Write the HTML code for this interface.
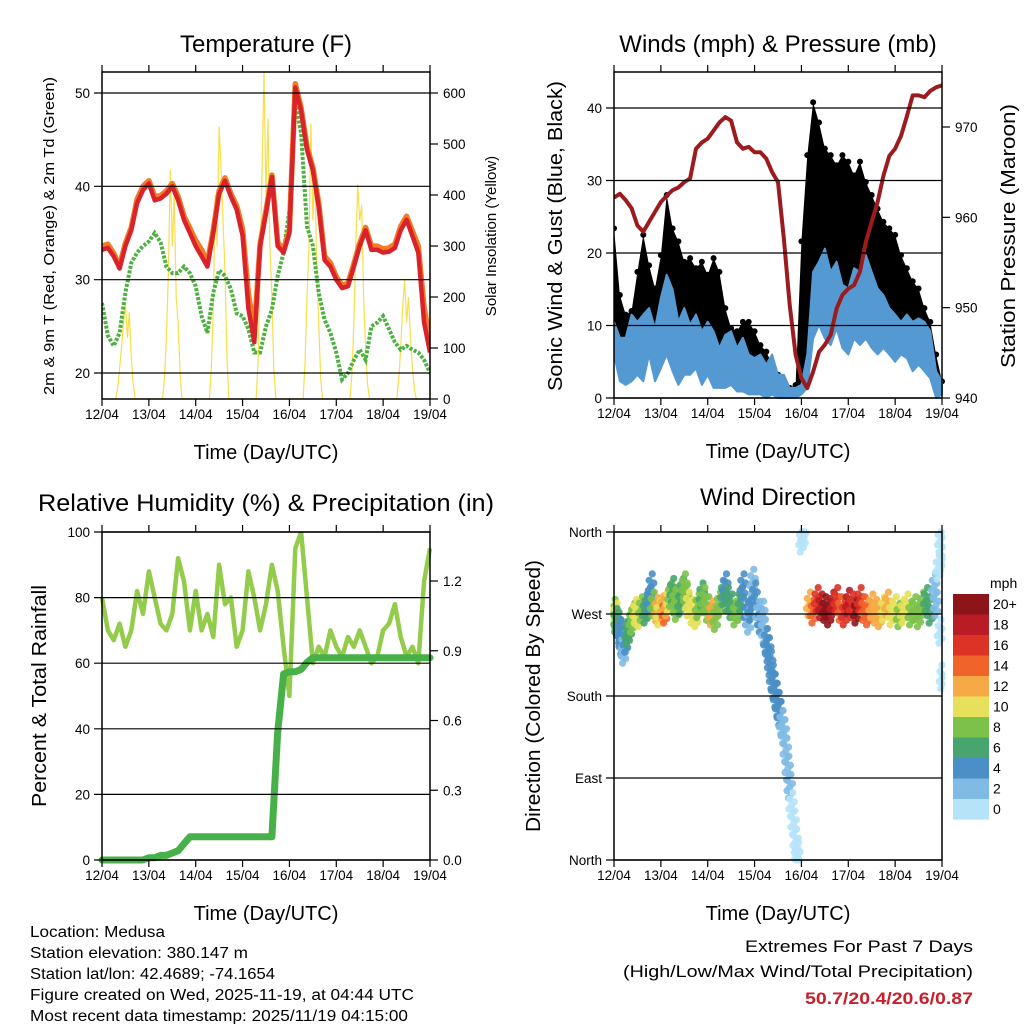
<!DOCTYPE html>
<html><head><meta charset="utf-8">
<style>
html,body{margin:0;padding:0;background:#fff;}
svg{display:block;font-family:"Liberation Sans",Arial,sans-serif;}
</style></head>
<body>
<svg id="fig" width="1024" height="1024" viewBox="0 0 1024 1024" xmlns="http://www.w3.org/2000/svg">
<rect width="1024" height="1024" fill="#fff"/>
<text x="266" y="52" font-size="24" text-anchor="middle">Temperature (F)</text>
<text x="778" y="52" font-size="24" text-anchor="middle">Winds (mph) &amp; Pressure (mb)</text>
<text x="266" y="511" font-size="24" text-anchor="middle" textLength="456" lengthAdjust="spacingAndGlyphs">Relative Humidity (%) &amp; Precipitation (in)</text>
<text x="778" y="505" font-size="24" text-anchor="middle">Wind Direction</text>

<text transform="translate(54,236) rotate(-90)" font-size="15" text-anchor="middle" textLength="318" lengthAdjust="spacingAndGlyphs">2m &amp; 9m T (Red, Orange) &amp; 2m Td (Green)</text>
<text transform="translate(496,236) rotate(-90)" font-size="15" text-anchor="middle">Solar Insolation (Yellow)</text>
<text transform="translate(562,236) rotate(-90)" font-size="20" text-anchor="middle" textLength="310" lengthAdjust="spacingAndGlyphs">Sonic Wind &amp; Gust (Blue, Black)</text>
<text transform="translate(1015,236) rotate(-90)" font-size="20" text-anchor="middle" textLength="264" lengthAdjust="spacingAndGlyphs">Station Pressure (Maroon)</text>
<text transform="translate(46,696) rotate(-90)" font-size="20" text-anchor="middle" textLength="222" lengthAdjust="spacingAndGlyphs">Percent &amp; Total Rainfall</text>
<text transform="translate(540,696) rotate(-90)" font-size="20" text-anchor="middle" textLength="272" lengthAdjust="spacingAndGlyphs">Direction (Colored By Speed)</text>

<g font-size="15.5">
<text x="30" y="937" textLength="135" lengthAdjust="spacingAndGlyphs">Location: Medusa</text>
<text x="30" y="958" textLength="218" lengthAdjust="spacingAndGlyphs">Station elevation: 380.147 m</text>
<text x="30" y="979" textLength="245" lengthAdjust="spacingAndGlyphs">Station lat/lon: 42.4689; -74.1654</text>
<text x="30" y="1000" textLength="384" lengthAdjust="spacingAndGlyphs">Figure created on Wed, 2025-11-19, at 04:44 UTC</text>
<text x="30" y="1021" textLength="378" lengthAdjust="spacingAndGlyphs">Most recent data timestamp: 2025/11/19 04:15:00</text>
</g>
<g font-size="17" text-anchor="end">
<text x="973" y="952" textLength="228" lengthAdjust="spacingAndGlyphs">Extremes For Past 7 Days</text>
<text x="973" y="977" textLength="350" lengthAdjust="spacingAndGlyphs">(High/Low/Max Wind/Total Precipitation)</text>
<text x="973" y="1004" fill="#c8202a" font-weight="bold" textLength="168" lengthAdjust="spacingAndGlyphs">50.7/20.4/20.6/0.87</text>
</g>
<g id="layer"></g>
</svg>
<script>
// ---------- data (3-hourly, hours 0..168 from 12/04 00 UTC) ----------
const dayLabels = ["12/04","13/04","14/04","15/04","16/04","17/04","18/04","19/04"];
const temp2m = [33.2,33.4,32.5,31.2,33.6,35.3,38.2,39.6,40.3,38.5,38.7,39.2,40,38.5,36.4,35,33.6,32.5,31.4,35,39.2,40.6,38.9,37.5,34.7,26.9,23.3,33.6,37.1,41,33.6,32.9,35,50.6,48.1,43.9,41.7,37.8,32.1,31.4,30,29.1,29.3,31.4,33.6,35.3,33.2,33.2,32.9,33,33.4,35.3,36.4,34.7,32.9,25.4,22.2];
const temp9m = [33.6,33.8,32.8,31.5,33.9,35.6,38.6,40,40.6,38.9,39,39.5,40.3,38.9,36.8,35.5,34.2,33.2,31.8,35.3,39.5,40.9,39.2,37.9,35.4,28.5,24.5,33.8,37.4,41.2,34,33.2,35.3,51,48.4,44.2,42,38.2,32.5,31.8,30.3,29.4,29.6,31.7,33.9,35.6,33.6,33.6,33.3,33.4,33.8,35.7,36.8,35.2,33.6,27,23.5];
const dewpt = [27.5,24,22.9,24.3,28.6,31.8,32.9,33.6,34.1,35,34,31.4,30.7,30.7,31.4,30.7,29.3,26.1,24.3,28.6,31,30.4,29,26.4,26.1,24.7,22.2,22.2,25,26.8,30.4,32.9,37.5,48.9,45.7,35.7,33.6,28.6,25.7,24.3,22.2,19.3,20,21.4,22.5,21.4,25,25.4,26.1,24.7,23.3,22.5,22.9,22.5,22.2,21.4,20];
const solarDays = [
 [0,20,60,100,150,188,120,170,80,30,0],
 [0,40,120,250,449,300,400,200,150,50,0],
 [0,60,180,400,300,535,450,350,250,80,0],
 [0,80,250,450,640,400,550,300,200,60,0],
 [0,70,200,300,540,350,450,250,150,40,0],
 [0,50,150,300,420,350,380,200,100,30,0],
 [0,40,100,180,233,150,200,120,60,20,0]];
const pressure = [962.2,962.6,961.9,961,959.1,958.4,959.5,960.6,961.7,962.4,963,963.3,963.9,964.3,967.6,968.3,968.7,969.6,970.5,971.1,970.7,968.3,967.6,967.8,967.2,967.2,966.5,965,963.9,957.6,950.3,944.8,942.2,941.1,942.9,945.1,945.9,947,949.9,951.4,952.1,952.5,954,957.3,959.5,961.7,964.6,966.8,967.6,969,971.2,973.5,973.5,973.3,974,974.4,974.6];
const windHi = [10.5,8.3,8.3,11.5,10.5,11.5,12.4,9.6,13.8,17,15,10.5,12.4,10.1,11.5,9.2,10.5,9.2,6.9,8.7,9.2,6.9,8.3,6,5.5,6,4.6,6,3.2,3.2,1.4,1.4,1.8,6,17.4,18.8,20.6,17.4,18.8,15.6,15.1,17.9,17.4,19.7,17.4,15.1,14.2,12.4,11.5,10.5,11.5,10.5,11,10.5,9.2,3.7,2.3];
const windLo = [6,2.3,1.8,2.3,3.2,2.3,6,2.3,4.1,6,3.7,1.8,3.2,3.2,4.1,1.8,3.2,1.4,1.4,1.4,1.8,0.9,0.9,0.5,0.5,0.5,0,0.5,0,0,0,0,0.5,1.4,8.2,10.1,8.2,7.3,9.6,6.9,6,8.2,7.3,8.2,6.9,6,6.9,6,5,6,5.5,3.7,4.6,3.7,2.7,0,0.5];
const gustHi = [23.4,14.2,11.5,12,17.4,22.5,18.3,15.1,19.7,28,23.4,21.6,18.8,19.3,17.9,18.8,17,19.3,17.4,12.4,9.6,9.2,10.5,10.5,9.2,7.3,6.4,4.6,3.2,1.8,1.4,1.8,21.6,33.5,40.8,38,34.4,33.5,32.1,33.5,32.6,30.7,32.6,29.8,28,26.1,24.3,23.4,22.5,19.7,17.9,16.1,15.1,12.4,10.5,6,2.3];
const rh = [80,70,67,72,65,70,82,75,88,80,72,70,75,92,85,70,82,70,75,68,90,78,80,65,70,88,80,70,78,90,82,65,50,95,100,80,60,65,62,70,65,62,68,65,70,65,60,62,70,72,78,68,62,65,60,85,95];
const precip = [0,0,0,0,0,0,0,0,0.01,0.01,0.02,0.02,0.03,0.04,0.07,0.1,0.1,0.1,0.1,0.1,0.1,0.1,0.1,0.1,0.1,0.1,0.1,0.1,0.1,0.1,0.55,0.8,0.81,0.81,0.82,0.85,0.87,0.87,0.87,0.87,0.87,0.87,0.87,0.87,0.87,0.87,0.87,0.87,0.87,0.87,0.87,0.87,0.87,0.87,0.87,0.87,0.87];
const dirHours = [0,1,1,2,3,4,4,5,5,6,7,8,9,10,11,12,13,14,16,17,18,19,20,22,23,25,26,27,28,29,30,31,32,34,35,36,37,38,40,42,43,45,46,48,50,52,54,56,57,58,60,62,64,65,66,68,69,70,71,72,74,75,76,77,78,79,80,81,82,83,84,85,86,87,88,89,90,91,92,93,94,96,97,100,102,104,106,108,110,112,114,116,118,120,122,124,126,128,130,132,134,136,138,140,142,144,146,148,150,152,154,156,158,160,162,164,165,166,167,168,167,168];
const dirDeg = [272,268,262,258,250,245,238,235,228,240,248,255,262,268,272,270,268,275,272,278,285,300,280,274,270,276,272,280,285,290,295,283,276,282,295,300,288,280,272,268,278,290,285,275,270,265,280,292,300,285,278,270,275,285,300,270,262,275,305,290,270,262,270,250,240,230,215,200,190,180,170,160,150,140,120,100,80,60,40,20,5,350,355,280,272,285,278,275,270,280,285,275,270,282,278,272,285,275,270,278,272,268,275,280,270,275,268,272,278,270,275,268,280,285,272,300,280,320,250,200,350,330];
const dirSpeed = [9,10,7,6,5,4,4,3,3,5,6,7,8,9,10,11,10,9,6,7,5,4,8,12,11,13,15,12,10,8,6,9,8,7,6,8,9,10,11,10,8,7,8,9,12,9,8,6,5,6,7,8,8,6,5,4,3,4,3,4,3,4,3,3,4,5,4,4,5,4,5,4,3,3,2,2,2,1,1,1,1,1,1,12,14,16,18,20,20,18,16,14,16,18,17,20,16,15,14,12,13,12,10,12,11,10,9,10,11,9,8,8,9,7,6,3,2,1,1,1,1,1];
const speedColors = ["#b5e3f8","#7fbbe4","#4a8fc7","#48a56f","#7cc24a","#e7e05a","#f6aa45","#f0632b","#dc3326","#b91c24","#8d1519"];
const speedLabels = ["0","2","4","6","8","10","12","14","16","18","20+"];

// ---------- helpers ----------
const NS="http://www.w3.org/2000/svg";
const layer=document.getElementById('layer');
function mk(tag,attrs,parent){const e=document.createElementNS(NS,tag);for(const k in attrs)e.setAttribute(k,attrs[k]);(parent||layer).appendChild(e);return e;}
function hourOf(i){return i*3;}
function xScale(P){return h=>P.x0+(P.x1-P.x0)*h/168;}
function lin(v0,p0,v1,p1){return v=>p0+(v-v0)*(p1-p0)/(v1-v0);}
function pathFrom(arr,xs,ys){return arr.map((v,i)=>(i?'L':'M')+xs(hourOf(i)).toFixed(1)+','+ys(v).toFixed(1)).join('');}

function frame(P,name){
  const g=mk('g',{});
  
  
  mk('rect',{x:P.x0,y:P.y0,width:P.x1-P.x0,height:P.y1-P.y0,fill:'none',stroke:'#000','stroke-width':1.5},g);
  const xs=xScale(P);
  dayLabels.forEach((d,i)=>{
    const x=xs(i*24);
    mk('line',{x1:x,y1:P.y1,x2:x,y2:P.y1+7,stroke:'#000','stroke-width':1.2},g);
    mk('line',{x1:x,y1:P.y0,x2:x,y2:P.y0-7,stroke:'#000','stroke-width':1.2},g);
    const t=mk('text',{x:x,y:P.y1+20,'font-size':13.5,'text-anchor':'middle'},g);
    t.textContent=d;
    
    
  });
  const tt=mk('text',{x:(P.x0+P.x1)/2,y:P.y1+60,'font-size':20,'text-anchor':'middle'},g);
  tt.textContent='Time (Day/UTC)';
  
  
  return g;
}
function leftTicks(P,vals,ys,labels,grid,g){
  vals.forEach((v,i)=>{const y=ys(v);
    mk('line',{x1:P.x0-8,y1:y,x2:grid?P.x1:P.x0,y2:y,stroke:'#000','stroke-width':1.2},g);
    const t=mk('text',{x:P.x0-12,y:y+5,'font-size':13.5,'text-anchor':'end'},g);t.textContent=labels[i];
    
    
  });
}
function rightTicks(P,vals,ys,labels,g){
  vals.forEach((v,i)=>{const y=ys(v);
    mk('line',{x1:P.x1,y1:y,x2:P.x1+8,y2:y,stroke:'#000','stroke-width':1.2},g);
    const t=mk('text',{x:P.x1+13,y:y+5,'font-size':13.5},g);t.textContent=labels[i];
    
    
  });
}

// ---------- Panel 1: temperature ----------
(function(){
  const P={x0:102,x1:430,y0:72,y1:399};
  const xs=xScale(P), yT=lin(20,373,50,93), yS=lin(0,399,600,93);
  const g=mk('g',{});
  
  
  const clip=mk('clipPath',{id:'c1'},g);mk('rect',{x:P.x0,y:P.y0,width:P.x1-P.x0,height:P.y1-P.y0},clip);
  const d=mk('g',{'clip-path':'url(#c1)'},g);
  let sp='';solarDays.forEach((day,k)=>day.forEach((v,j)=>{sp+=(sp?'L':'M')+xs(24*k+7+j).toFixed(1)+','+yS(v).toFixed(1);}));
  const s=mk('path',{d:sp,fill:'none',stroke:'#f8de4a','stroke-width':1.2},d);
  
  
  const gr=mk('path',{d:pathFrom(dewpt,xs,yT),fill:'none',stroke:'#4cb140','stroke-width':4,'stroke-dasharray':'3 1.6'},d);
  
  
  const o=mk('path',{d:pathFrom(temp9m,xs,yT),fill:'none',stroke:'#f47a25','stroke-width':5.5,'stroke-linejoin':'round'},d);
  
  
  const r=mk('path',{d:pathFrom(temp2m,xs,yT),fill:'none',stroke:'#d8232a','stroke-width':4.5,'stroke-linejoin':'round'},d);
  
  
  const f=frame(P,'temperature');
  leftTicks(P,[20,30,40,50],yT,['20','30','40','50'],true,f);
  rightTicks(P,[0,100,200,300,400,500,600],yS,['0','100','200','300','400','500','600'],f);
})();

// ---------- Panel 2: winds & pressure ----------
(function(){
  const P={x0:614,x1:942,y0:72,y1:398};
  const xs=xScale(P), yW=lin(0,398,40,108), yP=lin(940,398,970,127);
  const g=mk('g',{});
  
  
  const clip=mk('clipPath',{id:'c2'},g);mk('rect',{x:P.x0,y:P.y0-2,width:P.x1-P.x0+4,height:P.y1-P.y0+4},clip);
  const d=mk('g',{'clip-path':'url(#c2)'},g);
  const f=frame(P,'winds');
  leftTicks(P,[0,10,20,30,40],yW,['0','10','20','30','40'],true,f);
  let band=pathFrom(gustHi,xs,yW)+windLo.slice().reverse().map((v,i)=>'L'+xs(hourOf(windLo.length-1-i)).toFixed(1)+','+yW(v).toFixed(1)).join('')+'Z';
  const gb=mk('path',{d:band,fill:'#000'},d);
  
  
  gustHi.forEach((v,i)=>{const c=mk('circle',{cx:xs(hourOf(i)),cy:yW(v),r:3,fill:'#000'},d);
    
    });
  let wb=pathFrom(windHi,xs,yW)+windLo.slice().reverse().map((v,i)=>'L'+xs(hourOf(windLo.length-1-i)).toFixed(1)+','+yW(v).toFixed(1)).join('')+'Z';
  const w=mk('path',{d:wb,fill:'#5599d2',stroke:'#5599d2','stroke-width':2,'stroke-linejoin':'round'},d);
  
  
  const p=mk('path',{d:pathFrom(pressure,xs,yP),fill:'none',stroke:'#9b1b1e','stroke-width':4,'stroke-linejoin':'round'},d);
  
  
  rightTicks(P,[940,950,960,970],yP,['940','950','960','970'],f);
})();

// ---------- Panel 3: humidity & precip ----------
(function(){
  const P={x0:102,x1:430,y0:532,y1:860};
  const xs=xScale(P), yR=lin(0,860,100,532), yI=lin(0,860,1.2,581);
  const g=mk('g',{});
  
  
  const f=frame(P,'humidity');
  leftTicks(P,[0,20,40,60,80,100],yR,['0','20','40','60','80','100'],true,f);
  rightTicks(P,[0,0.3,0.6,0.9,1.2],yI,['0.0','0.3','0.6','0.9','1.2'],f);
  const clip=mk('clipPath',{id:'c3'},g);mk('rect',{x:P.x0-5,y:P.y0,width:P.x1-P.x0+10,height:P.y1-P.y0+5},clip);
  const d=mk('g',{'clip-path':'url(#c3)'},g);
  const r=mk('path',{d:pathFrom(rh,xs,yR),fill:'none',stroke:'#93cb4b','stroke-width':4.5,'stroke-linejoin':'round'},d);
  
  
  const p=mk('path',{d:pathFrom(precip,xs,yI),fill:'none',stroke:'#48b048','stroke-width':7,'stroke-linejoin':'round','stroke-linecap':'round'},d);
  
  
})();

// ---------- Panel 4: wind direction ----------
(function(){
  const P={x0:614,x1:942,y0:532,y1:860};
  const xs=xScale(P), yD=lin(360,532,0,860);
  const g=mk('g',{});
  
  
  const f=frame(P,'wind-direction');
  leftTicks(P,[360,270,180,90,0],yD,['North','West','South','East','North'],true,f);
  const d=mk('g',{},g);
  const offs=[[0,0],[-1,7],[1,-7],[0.6,14],[-0.6,-12],[1.4,4],[-1.4,-4]];
  dirHours.forEach((h,i)=>{
    const col=speedColors[Math.min(10,Math.floor(dirSpeed[i]/2))];
    offs.forEach(o=>{
      const c=mk('circle',{cx:xs(Math.max(0,Math.min(168,h+o[0]))),cy:yD(Math.max(0,Math.min(360,dirDeg[i]+o[1]))),r:3.6,fill:col,'fill-opacity':0.9},d);
      
      
    });
  });
  const cb=mk('g',{},g);
  
  
  const t0=mk('text',{x:990,y:588,'font-size':14},cb);t0.textContent='mph';
  speedColors.slice().reverse().forEach((c,i)=>{
    const y=594+i*20.5;
    mk('rect',{x:953,y:y,width:36,height:20.6,fill:c},cb);
    const t=mk('text',{x:993,y:y+15,'font-size':14},cb);
    t.textContent=speedLabels[10-i];
    
    
  });
})();
</script>
</body></html>
